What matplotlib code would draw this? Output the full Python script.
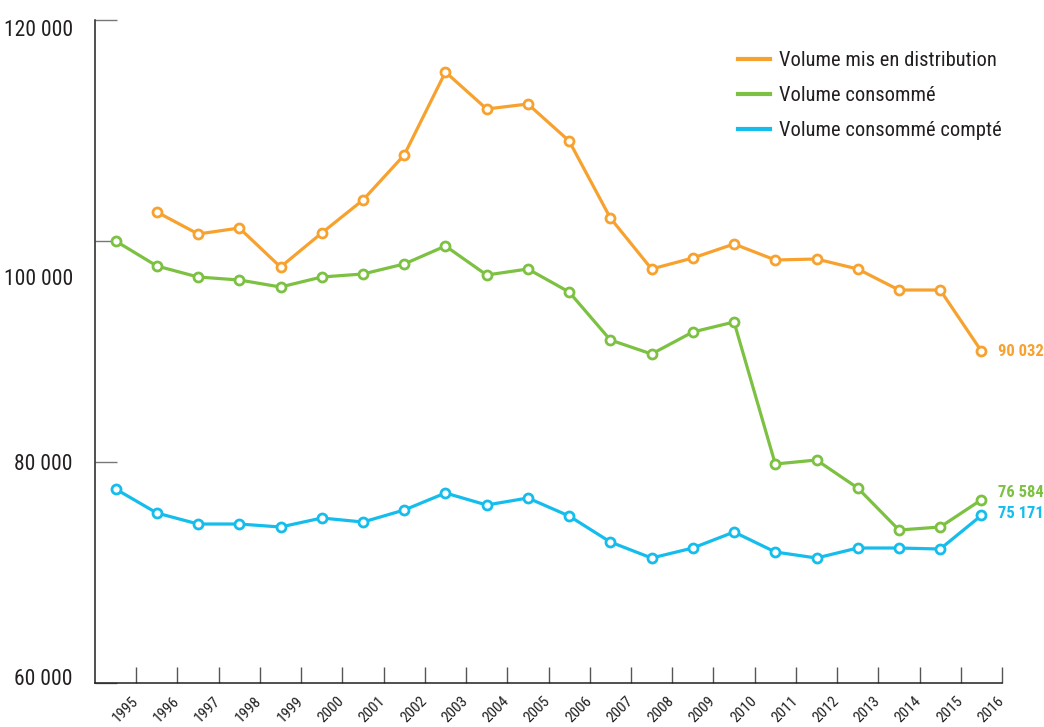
import matplotlib
matplotlib.use('Agg')
import matplotlib.pyplot as plt
import matplotlib.transforms as mtransforms
import numpy as np

plt.rcParams['font.family'] = ['Roboto Condensed', 'DejaVu Sans']

# Données
annees = [str(a) for a in range(1995, 2017)]
distribution = [None, 102624, 100633, 101176, 97647, 100724, 103710, 107783, 115294,
                111946, 112398, 109050, 102081, 97466, 98462, 99729, 98281, 98370,
                97466, 95566, 95566, 90032]
consomme = [100000, 97738, 96742, 96471, 95837, 96742, 97014, 97919, 99548, 96923,
            97466, 95385, 91041, 89774, 91765, 92670, 79819, 80181, 77647, 73846,
            74118, 76584]
compte = [77557, 75385, 74389, 74389, 74118, 74932, 74570, 75656, 77195, 76109,
          76742, 75113, 72760, 71312, 72217, 73665, 71855, 71312, 72217, 72217,
          72127, 75171]
noms = ['Volume mis en distribution', 'Volume consommé', 'Volume consommé compté']
couleurs = ['#f7a22f', '#7cc142', '#15bdec']
etiquettes_fin = ['90 032', '76 584', '75 171']
texte = '#231f20'

fig = plt.figure(figsize=(10.44, 7.27), dpi=100)
ax = fig.add_axes([0.091, 0.0605, 0.8688, 0.912])

x = np.arange(len(annees))
series = [distribution, consomme, compte]
for vals, nom, c in zip(series, noms, couleurs):
    y = np.array([np.nan if v is None else v for v in vals], dtype=float)
    ax.plot(x, y, color=c, lw=2.3, marker='o', ms=6.5, mfc='white', mec=c, mew=2,
            label=nom, solid_joinstyle='round', clip_on=False)

# valeurs en fin de courbe
decal = [0, 5.5, 1.5]
for vals, txt, c, d in zip(series, etiquettes_fin, couleurs, decal):
    ax.annotate(txt, (x[-1], vals[-1]), xytext=(12, d), textcoords='offset points',
                color=c, fontsize=12, fontweight='bold', va='center', ha='left')

ax.set_xlim(-0.5, 21.5)
ax.set_ylim(60000, 120000)

for s in ['top', 'right']:
    ax.spines[s].set_visible(False)
for s in ['left', 'bottom']:
    ax.spines[s].set_linewidth(1.1)
    ax.spines[s].set_color(texte)

# axe y (étiquettes décalées comme sur l'original)
ax.set_yticks([60000, 80000, 100000, 120000])
ax.set_yticklabels(['60 000', '80 000', '100 000', '120 000'])
ax.tick_params(axis='y', direction='in', length=16, width=1, color='#777777',
               labelsize=15.5, pad=16, labelcolor=texte)
decal_y = [4, 0, -26, -6]
for lab, dy in zip(ax.get_yticklabels(), decal_y):
    lab.set_transform(lab.get_transform() +
                      mtransforms.ScaledTranslation(0, dy / 72, fig.dpi_scale_trans))

# axe x : graduations entre les années
ax.set_xticks(x)
ax.set_xticklabels(annees)
ax.set_xticks(np.arange(0.5, 21.6, 1), minor=True)
ax.tick_params(axis='x', which='major', length=0, labelsize=11, pad=8,
               labelcolor=texte)
ax.tick_params(axis='x', which='minor', direction='in', length=11.5, width=1,
               color='#555555')
for lab in ax.get_xticklabels():
    lab.set_rotation(45)
    lab.set_ha('right')
    lab.set_va('top')
    lab.set_rotation_mode('anchor')
    lab.set_transform(lab.get_transform() +
                      mtransforms.ScaledTranslation(11 / 72, 0, fig.dpi_scale_trans))

leg = ax.legend(loc='upper left', bbox_to_anchor=(738 / 1044, 1 - 51 / 727),
                bbox_transform=fig.transFigure, frameon=False, borderpad=0,
                borderaxespad=0, fontsize=14.8, handlelength=1.55, handletextpad=0.45,
                labelspacing=0.78, labelcolor=texte)
for h in leg.legend_handles:
    h.set_marker('')
    h.set_linewidth(3)

fig.savefig('out.png', dpi=100)
